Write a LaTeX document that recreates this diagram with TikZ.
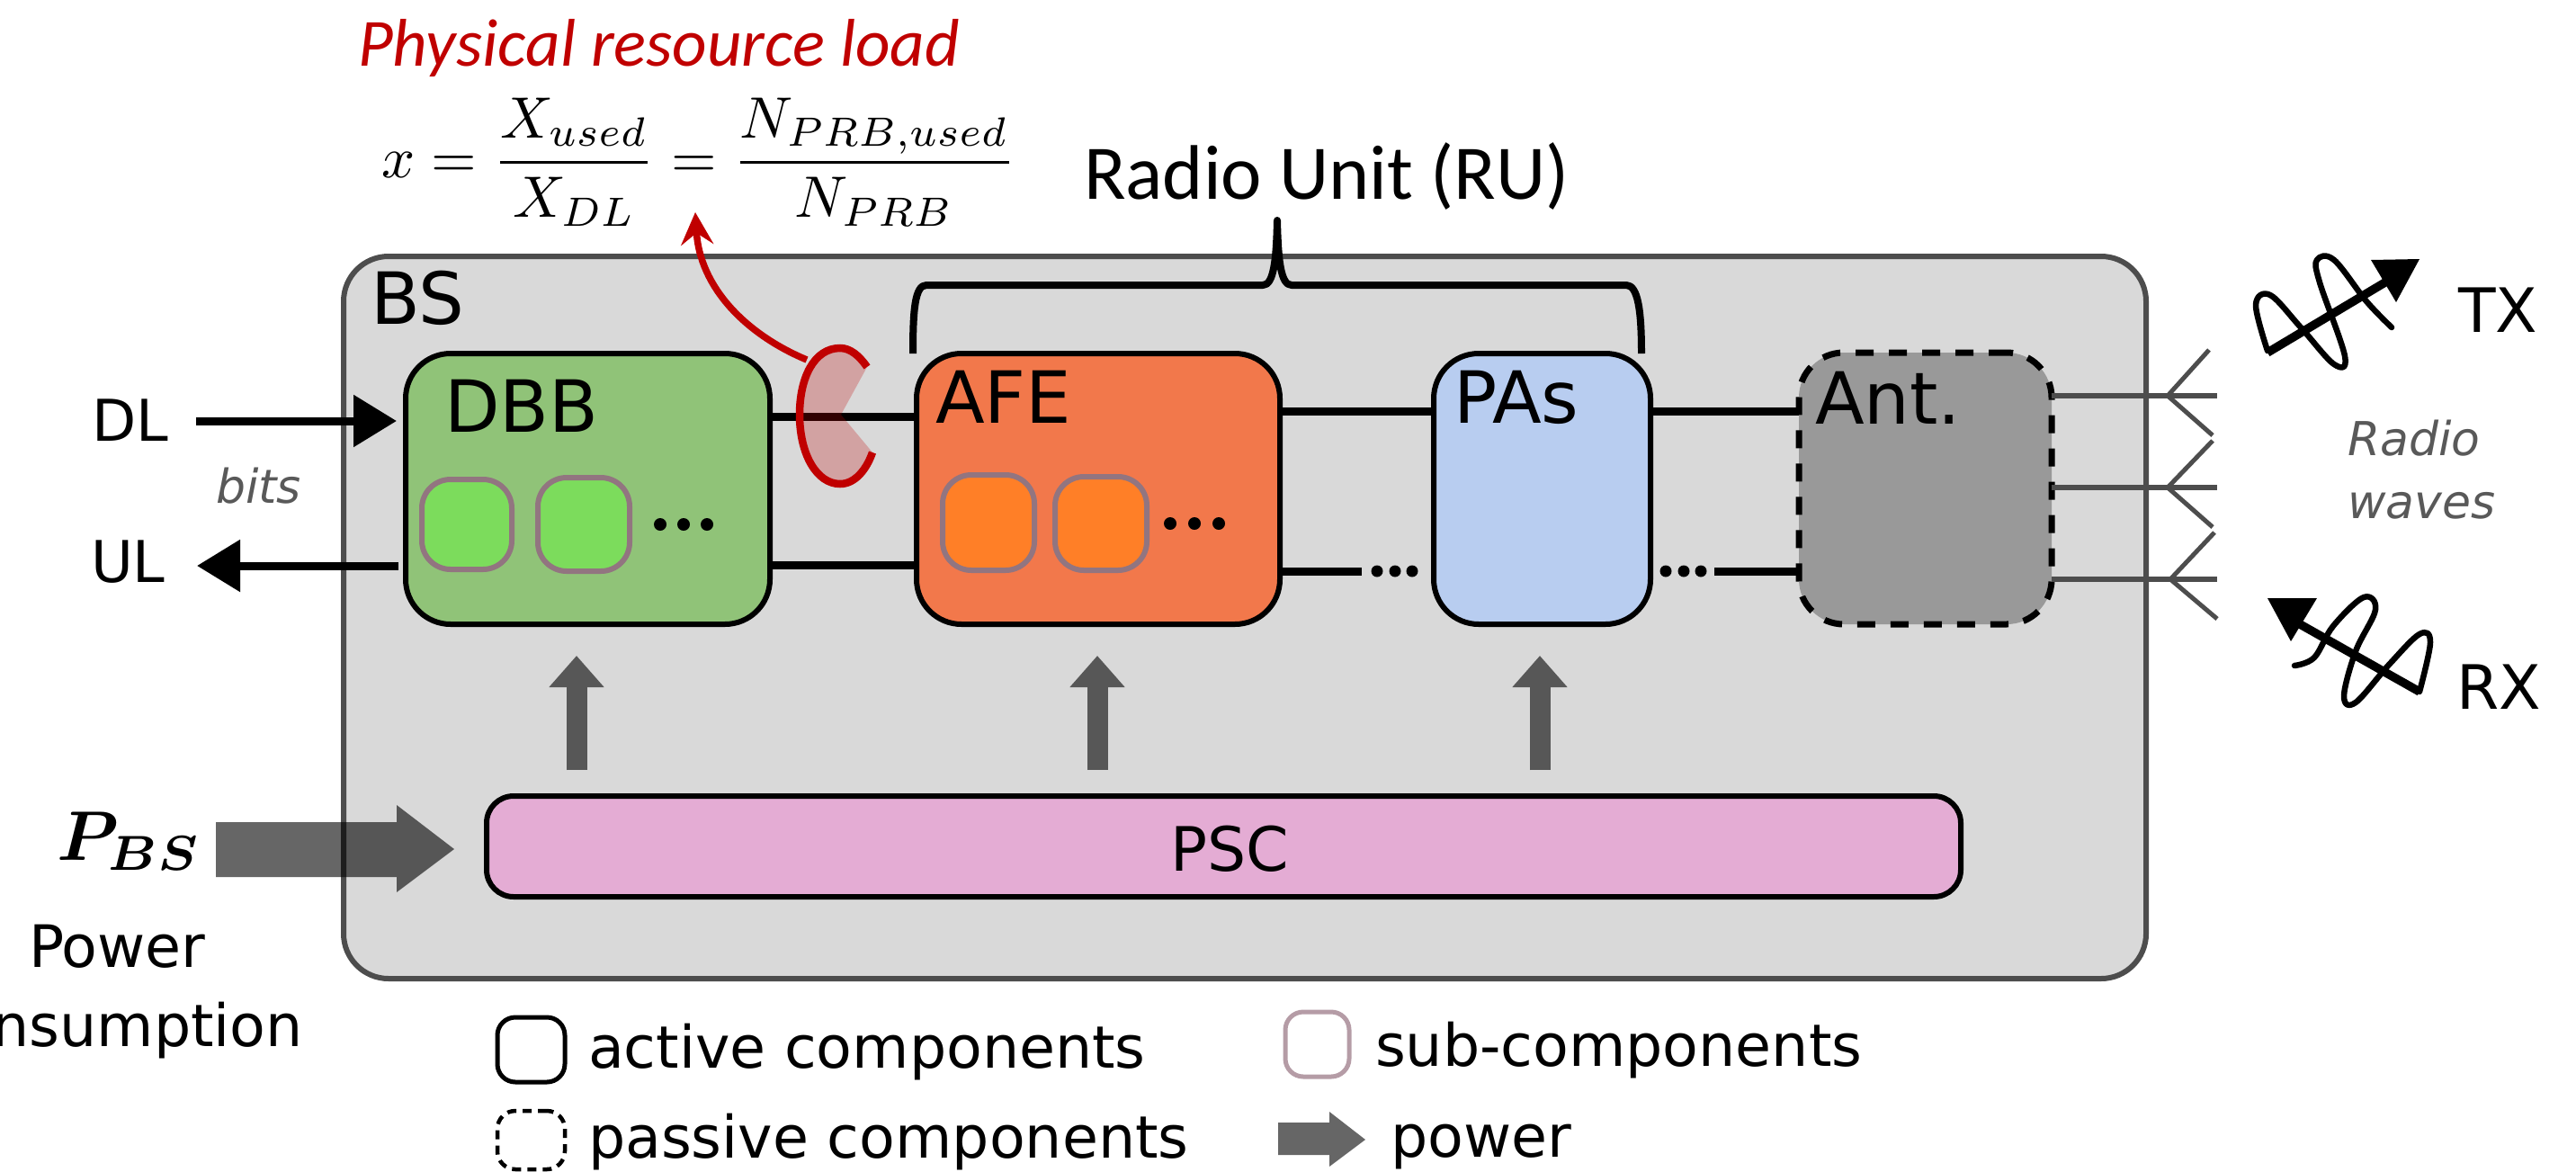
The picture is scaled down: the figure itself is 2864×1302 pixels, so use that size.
\documentclass[tikz,border=0pt]{standalone}
\usepackage[no-math]{fontspec}
\usetikzlibrary{arrows.meta,calc}
\DeclareMathAlphabet{\mathbi}{OML}{cmm}{b}{it}
\newfontfamily\djv{DejaVu Sans}
\newfontfamily\crl{Carlito}
\newcommand{\fs}[1]{\fontsize{#1}{#1}\selectfont}
\definecolor{frame}{HTML}{4D4D4D}
\definecolor{bsfill}{HTML}{D9D9D9}
\definecolor{dbbfill}{HTML}{90C378}
\definecolor{afefill}{HTML}{F2784B}
\definecolor{pafill}{HTML}{B8CDF0}
\definecolor{antfill}{HTML}{999999}
\definecolor{pscfill}{HTML}{E4ACD4}
\definecolor{subgreen}{HTML}{7CDC5C}
\definecolor{suborange}{HTML}{FF7F27}
\definecolor{subedge}{HTML}{927580}
\definecolor{legsub}{HTML}{B59CA6}
\definecolor{loadred}{HTML}{C00000}
\definecolor{softtext}{HTML}{595959}
\definecolor{powergrey}{HTML}{575757}
\newcommand{\rectbox}[6]{\node[#2,minimum width={(#5-#3)*1pt},minimum height={(#6-#4)*1pt}] (#1) at ({(#3+#5)/2},{(#4+#6)/2}) {};}
\tikzset{
  boxbase/.style={rectangle,inner sep=0pt,outer sep=0pt},
  bsbox/.style={boxbase,draw=frame,fill=bsfill,line width=6pt,rounded corners=50pt},
  active/.style={boxbase,draw=black,line width=6pt,rounded corners=50pt},
  passive/.style={boxbase,draw=black,line width=7pt,rounded corners=50pt,dash pattern=on 20pt off 17pt},
  subbox/.style={boxbase,draw=subedge,line width=6pt,rounded corners=32pt},
  legactive/.style={boxbase,draw=black,line width=5pt,rounded corners=20pt},
  legpassive/.style={boxbase,draw=black,line width=4.5pt,rounded corners=20pt,dash pattern=on 10pt off 7pt},
  legsubb/.style={boxbase,draw=legsub,line width=5pt,rounded corners=20pt},
  lbl/.style={anchor=base west,inner sep=0pt,outer sep=0pt,font=\djv\fs{#1}},
  lbl/.default=80,
  softlbl/.style={anchor=base west,inner sep=0pt,outer sep=0pt,text=softtext,font=\djv\itshape\fs{52}},
  clbl/.style={anchor=base west,inner sep=0pt,outer sep=0pt,font=\crl\fs{#1}},
  wire/.style={line width=9pt,draw=black},
  antwire/.style={line width=6pt,draw=frame},
  antfork/.style={line width=5pt,draw=frame},
  dotn/.style={circle,fill=black,inner sep=0pt,outer sep=0pt,minimum size=14pt},
  bitarrow/.style={line width=9pt,draw=black,-{Triangle[length=48pt,width=56pt]}},
  powerup/.style={line width=23pt,draw=powergrey,-{Triangle[length=35pt,width=59pt]},shorten <=29pt,shorten >=35pt},
  powerfill/.style={fill=black,opacity=.6},
  redstroke/.style={line width=8.5pt,draw=loadred},
  wavearrow/.style={line width=9.5pt,draw=black},
  wavecurve/.style={line width=6.5pt,draw=black,line cap=round,line join=round},
}
\begin{document}
\begin{tikzpicture}[x=1pt,y=-1pt]
\useasboundingbox (0,0) rectangle (2864,1302);
% frames
\rectbox{bs}{bsbox}{382}{285}{2386}{1088}
\rectbox{dbb}{active,fill=dbbfill}{451}{393}{856}{694}
\rectbox{afe}{active,fill=afefill}{1019}{393}{1423}{694}
\rectbox{pas}{active,fill=pafill}{1594}{393}{1835}{694}
\rectbox{ant}{passive,fill=antfill}{2000}{392}{2281}{694}
\rectbox{psc}{active,fill=pscfill,rounded corners=30pt}{541}{885}{2180}{997}
\rectbox{dsa}{subbox,fill=subgreen}{469}{533}{569}{633}
\rectbox{dsb}{subbox,fill=subgreen}{598}{531}{700}{635}
\rectbox{asa}{subbox,fill=suborange}{1048}{528}{1150}{634}
\rectbox{asb}{subbox,fill=suborange}{1173}{530}{1275}{634}
% ellipsis dots
\foreach \x in {734,760,786} \node[dotn,name=dd\x] at (\x,583) {};
\foreach \x in {1301,1328,1355} \node[dotn,name=ad\x] at (\x,582) {};
\foreach \x in {1531,1551,1570} \node[dotn,minimum size=13pt,name=pd\x] at (\x,635) {};
\foreach \x in {1852,1872,1891} \node[dotn,minimum size=13pt,name=qd\x] at (\x,635) {};
% wires
\draw[wire] (dbb.east |- 0,463) -- (afe.west |- 0,463);
\draw[wire] (dbb.east |- 0,628) -- (afe.west |- 0,628);
\draw[wire] (afe.east |- 0,457) -- (pas.west |- 0,457);
\draw[wire] (pas.east |- 0,457) -- (ant.west |- 0,457);
\coordinate (wa) at (1514,635);
\coordinate (wb) at (1906,635);
\draw[wire] (afe.east |- wa) -- (wa);
\draw[wire] (wb) -- (ant.west |- wb);
% bit arrows
\coordinate (dlstart) at (218,468);
\coordinate (ulend) at (219,629);
\draw[bitarrow,shorten >=10pt] (dlstart) -- (dbb.west |- dlstart);
\draw[bitarrow,shorten <=8pt] (dbb.west |- ulend) -- (ulend);
% antennas
\foreach \n/\y/\bx/\ux/\uy/\dx/\dy in {1/440/2410/2456/389/2460/484,2/542/2410/2460/490/2460/586,3/644/2413/2462/592/2465/688}{
  \coordinate (at\n) at (2465,\y);
  \draw[antwire] (ant.east |- at\n) -- (at\n);
  \draw[antfork] (\ux,\uy) -- (\bx,\y) -- (\dx,\dy);
}
% power arrows
\draw[powerup] (psc.north -| 641,0) -- (dbb.south -| 641,0);
\draw[powerup] (psc.north -| 1220,0) -- (afe.south -| 1220,0);
\draw[powerup] (psc.north -| 1712,0) -- (pas.south -| 1712,0);
\coordinate (pstart) at (240,944);
\fill[powerfill] (pstart |- 0,914) -- (441,914) -- (441,895) -- ($(psc.west)+(-36,3)$) -- (441,992) -- (441,975) -- (pstart |- 0,975) -- cycle;
% radio unit brace
\coordinate (bracetip) at (1420,245);
\draw[line width=8pt,line join=round] (afe.north -| 1015,0) .. controls (1015,345) and (1017,317) .. (1030,317) -- (1404,317) .. controls (1416,317) and (1419,290) .. (bracetip) .. controls (1421,290) and (1424,317) .. (1436,317) -- (1808,317) .. controls (1821,317) and (1825,345) .. (pas.north -| 1825,0);
% tap
\fill[loadred,opacity=.25] (964,408) .. controls (955,395) and (945,387) .. (934,387) .. controls (905,387) and (889,420) .. (889,461) .. controls (889,505) and (908,538) .. (934,538) .. controls (950,538) and (963,523) .. (970,503) -- (935,461) -- cycle;
\draw[redstroke] (964,408) .. controls (955,395) and (945,387) .. (934,387) .. controls (905,387) and (889,420) .. (889,461) .. controls (889,505) and (908,538) .. (934,538) .. controls (950,538) and (963,523) .. (970,503);
\coordinate (loadstart) at (897,400);
\coordinate (loadtip) at (773,236);
\draw[redstroke,line width=7.5pt,-{Stealth[length=36pt,width=36pt,inset=13pt]}] (loadstart) .. controls (830,372) and (778,320) .. (loadtip);
% waves
\fill[black] (2636,289) -- (2690,288) -- (2664,336) -- cycle;
\draw[wavearrow] (2521,392) -- (2655,312);
\draw[wavecurve] plot[smooth,tension=.6] coordinates {(2521,390) (2508,339) (2524,328) (2558,364) (2595,405) (2607,396) (2579,314) (2576,289) (2595,289) (2631,335) (2659,364)};
\fill[black] (2521,665) -- (2576,665) -- (2547,713) -- cycle;
\draw[wavearrow] (2690,769) -- (2550,690);
\draw[wavecurve] plot[smooth,tension=.6] coordinates {(2690,769) (2702,714) (2690,705) (2656,739) (2619,781) (2606,774) (2619,724) (2641,678) (2628,664) (2594,696) (2573,731) (2551,740)};
% labels
\node[clbl=75,text=loadred,font=\crl\itshape\fs{75}] (load) at (398,73) {Physical resource load};
\node[inner sep=0pt,scale=6.5] (eq) at (777,180) {$\displaystyle x=\frac{X_{used}}{X_{DL}}=\frac{N_{PRB,used}}{N_{PRB}}$};
\node[clbl=86] (ru) at (1205,221) {Radio Unit (RU)};
\node[lbl] (tbs) at (412,360) {BS};
\node[lbl] (tdbb) at (494,480) {DBB};
\node[lbl] (tafe) at (1040,470) {AFE};
\node[lbl] (tpas) at (1616,470) {PAs};
\node[lbl] (tant) at (2018,471) {Ant.};
\node[lbl=68] (tpsc) at (1301,968) {PSC};
\node[lbl=64] (tdl) at (102,490) {DL};
\node[lbl=64] (tul) at (101,647) {UL};
\node[softlbl] (tbits) at (240,559) {bits};
\node[softlbl] (trad) at (2610,506) {Radio};
\node[softlbl] (twav) at (2610,576) {waves};
\node[lbl=68] (ttx) at (2733,369) {TX};
\node[lbl=68] (trx) at (2731,788) {RX};
\node[anchor=base west,inner sep=0pt,scale=7.8] (tpbs) at (62,956) {$\mathbi{P}_{\mathbi{BS}}$};
\node[lbl=65] (tpow) at (32,1075) {Power};
\node[lbl=65] (tcons) at (-84,1163) {consumption};
% legend
\rectbox{la}{legactive}{553}{1131}{628}{1203}
\rectbox{lp}{legpassive}{553}{1235}{628}{1300}
\rectbox{ls}{legsubb}{1429}{1125}{1500}{1197}
\fill[powerfill] (1421,1248) -- (1478,1248) -- (1478,1236) -- (1518,1267) -- (1478,1297) -- (1478,1284) -- (1421,1284) -- cycle;
\node[lbl=65] (tla) at (654,1187) {active components};
\node[lbl=65] (tlp) at (654,1287) {passive components};
\node[lbl=65] (tls) at (1529,1185) {sub-components};
\node[lbl=65] (tlw) at (1546,1286) {power};
\end{tikzpicture}
\end{document}
